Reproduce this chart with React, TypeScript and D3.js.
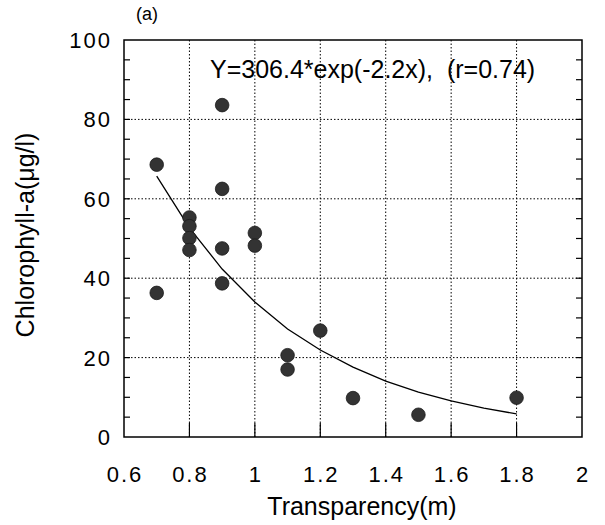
import React from "react";
import * as d3 from "d3";

const transparency = [0.7, 0.7, 0.8, 0.8, 0.8, 0.8, 0.9, 0.9, 0.9, 0.9, 1.0, 1.0, 1.1, 1.1, 1.2, 1.3, 1.5, 1.8];
const chlorophyll = [68.6, 36.3, 55.3, 53.1, 50.1, 47.1, 83.6, 62.5, 47.5, 38.7, 51.4, 48.2, 20.6, 17.0, 26.8, 9.8, 5.6, 9.9];

// fitted curve, sampled from the drawn line
const fitX = [0.7, 0.8, 0.9, 1.0, 1.1, 1.2, 1.3, 1.4, 1.5, 1.6, 1.7, 1.8];
const fitY = [65.7, 52.7, 42.3, 34.0, 27.2, 21.9, 17.6, 14.1, 11.3, 9.1, 7.3, 5.8];

const xTicks = [0.6, 0.8, 1, 1.2, 1.4, 1.6, 1.8, 2];
const yTicks = [0, 20, 40, 60, 80, 100];
const yMinor = [5, 10, 15, 25, 30, 35, 45, 50, 55, 65, 70, 75, 85, 90, 95];

const font = "'Liberation Sans', Arial, Helvetica, sans-serif";

export default function App() {
  const width = 605;
  const height = 525;
  const left = 124, right = 582, top = 40, bottom = 437;

  const x = d3.scaleLinear().domain([0.6, 2]).range([left, right]);
  const y = d3.scaleLinear().domain([0, 100]).range([bottom, top]);

  const line = d3.line<number>()
    .x((d, i) => x(fitX[i]))
    .y(d => y(d));

  return (
    <svg width={width} height={height} style={{ position: "absolute", left: 0, top: 0, background: "#fff" }}
      fontFamily={font}>
      {/* grid */}
      <g stroke="#000" strokeWidth={1} strokeDasharray="1.5,2">
        {xTicks.slice(1, -1).map(t => (
          <line key={"gx" + t} x1={x(t)} x2={x(t)} y1={top} y2={bottom} />
        ))}
        {yTicks.slice(1, -1).map(t => (
          <line key={"gy" + t} x1={left} x2={right} y1={y(t)} y2={y(t)} />
        ))}
      </g>

      {/* ticks */}
      <g stroke="#000" strokeWidth={1.2}>
        {xTicks.slice(1, -1).map(t => (
          <line key={"tx" + t} x1={x(t)} x2={x(t)} y1={bottom} y2={bottom - 14} />
        ))}
        {yMinor.concat(yTicks.slice(1, -1)).map(t => (
          <g key={"ty" + t}>
            <line x1={left} x2={left + 6} y1={y(t)} y2={y(t)} />
            <line x1={right} x2={right - 6} y1={y(t)} y2={y(t)} />
          </g>
        ))}
      </g>

      {/* frame */}
      <rect x={left} y={top} width={right - left} height={bottom - top}
        fill="none" stroke="#000" strokeWidth={1.5} />

      {/* fitted curve */}
      <path d={line(fitY) || ""} fill="none" stroke="#000" strokeWidth={1.3} />

      {/* points */}
      <g fill="#333" stroke="#1a1a1a" strokeWidth={0.8}>
        {transparency.map((t, i) => (
          <circle key={i} cx={x(t)} cy={y(chlorophyll[i])} r={6.8} />
        ))}
      </g>

      {/* tick labels */}
      <g fontSize={22} letterSpacing={2} fill="#000">
        {yTicks.map(t => (
          <text key={"ly" + t} x={left - 12} y={y(t) + 8} textAnchor="end">{t}</text>
        ))}
        {xTicks.map(t => (
          <text key={"lx" + t} x={x(t) + 1} y={482} textAnchor="middle">{String(t)}</text>
        ))}
      </g>

      {/* titles */}
      <text x={362} y={515} fontSize={25} textAnchor="middle">Transparency(m)</text>
      <text transform="translate(34,235) rotate(-90)" fontSize={25} textAnchor="middle">Chlorophyll-a(μg/l)</text>
      <text x={210} y={78} fontSize={25}>{"Y=306.4*exp(-2.2x),\u00a0 (r=0.74)"}</text>
      <text x={136} y={20} fontSize={18}>(a)</text>
    </svg>
  );
}
